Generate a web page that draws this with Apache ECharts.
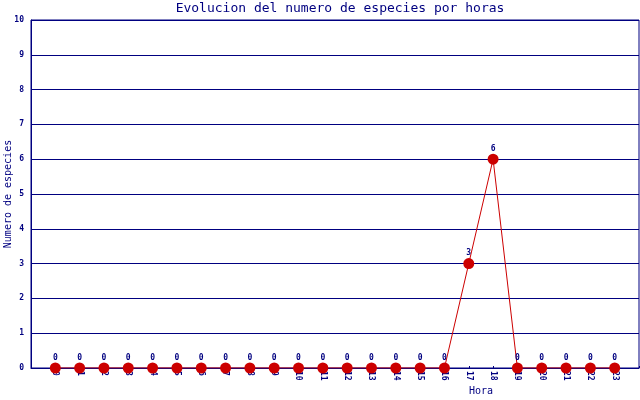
<!DOCTYPE html>
<html>
<head>
<meta charset="utf-8">
<script src="https://cdn.jsdelivr.net/npm/echarts@6/dist/echarts.min.js"></script>
<style>html,body{margin:0;padding:0;background:#fff}#c{width:640px;height:400px}</style>
</head>
<body>
<div id="c"></div>
<script>
var hours = [0,1,2,3,4,5,6,7,8,9,10,11,12,13,14,15,16,17,18,19,20,21,22,23];
var especies = [0,0,0,0,0,0,0,0,0,0,0,0,0,0,0,0,0,3,6,0,0,0,0,0];
var yTicks = [0,1,2,3,4,5,6,7,8,9,10];

var navy = '#000080';
var mono = '"DejaVu Sans Mono", "Liberation Mono", monospace';
var data = hours.map(function(h, i){ return [h, especies[i]]; });

var chart = echarts.init(document.getElementById('c'), null, {renderer: 'canvas'});
chart.setOption({
  animation: false,
  backgroundColor: '#fff',
  title: {
    text: 'Evolucion del numero de especies por horas',
    left: 335, top: -3, textAlign: 'center',
    textStyle: {fontFamily: mono, fontSize: 13, fontWeight: 'normal', color: navy}
  },
  grid: {left: 31, right: 1, top: 20, bottom: 32, show: true, borderColor: navy, borderWidth: 1,
    containLabel: false, outerBoundsMode: 'none'},
  xAxis: {
    type: 'value', min: -1, max: 24, interval: 1,
    axisLine: {onZero: false, lineStyle: {color: navy, width: 1}},
    axisTick: {show: true, inside: true, length: 2, lineStyle: {color: navy}},
    splitLine: {show: false},
    axisLabel: {
      rotate: -90, margin: 3, color: navy, fontFamily: mono, fontSize: 8, fontWeight: 'bold',
      formatter: function(v){ return (v >= 0 && v <= 23) ? String(hours[v]) : ''; }
    }
  },
  yAxis: {
    type: 'value', min: yTicks[0], max: yTicks[yTicks.length-1], interval: 1,
    axisLine: {show: true, onZero: false, lineStyle: {color: navy, width: 1}},
    axisTick: {show: false},
    splitLine: {show: true, lineStyle: {color: navy, width: 1}},
    axisLabel: {margin: 7, color: navy, fontFamily: mono, fontSize: 8, fontWeight: 'bold'}
  },
  graphic: [{
    type: 'text', left: 469, top: 386,
    style: {text: 'Hora', fill: navy, font: '10px ' + mono}
  }, {
    type: 'text', x: 8, y: 194, rotation: Math.PI / 2,
    style: {text: 'Numero de especies', fill: navy, font: '10px ' + mono, align: 'center', verticalAlign: 'middle'}
  }],
  series: [{
    type: 'line', data: data,
    lineStyle: {color: '#cc0000', width: 1},
    itemStyle: {color: '#cc0000'},
    symbol: 'circle', symbolSize: 11, showAllSymbol: true,
    label: {show: true, position: 'top', distance: 1, color: navy, fontFamily: mono, fontSize: 8, fontWeight: 'bold',
      formatter: function(p){ return p.value[1]; }}
  }]
});
</script>
</body>
</html>
